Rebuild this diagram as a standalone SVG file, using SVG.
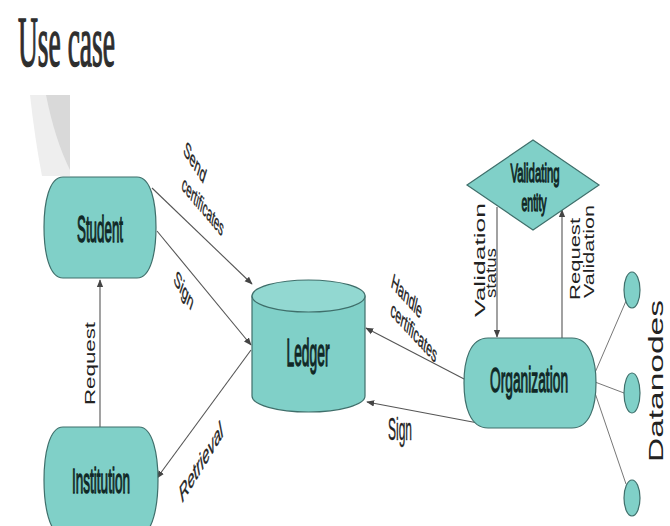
<svg xmlns="http://www.w3.org/2000/svg" width="670" height="526" viewBox="0 0 670 526">
<defs>
<style>
.node{fill:#80d0c8;stroke:#3f6f6b;stroke-width:1.2}
.nl{font-family:"Liberation Sans",Arial,sans-serif;fill:#102826;stroke:#102826;stroke-width:1;vector-effect:non-scaling-stroke;text-anchor:middle}
.lbl{font-family:"Liberation Sans",Arial,sans-serif;fill:#222}
.sl{font-family:"Liberation Sans",Arial,sans-serif;fill:#222;stroke:#222;stroke-width:0.4;text-anchor:middle}
.edge{stroke:#555;stroke-width:1.1;fill:none}
.arr{marker-end:url(#ah)}
.dn{stroke:#777;stroke-width:1;fill:none}
</style>
<marker id="ah" viewBox="0 0 10 10" refX="9" refY="5" markerWidth="8" markerHeight="8" orient="auto" markerUnits="userSpaceOnUse">
<path d="M0,1 L10,5 L0,9 Z" fill="#444"/>
</marker>
</defs>
<rect width="670" height="526" fill="#ffffff"/>
<g id="decor">
<path d="M30,95 H70 V176 H42 Q35,140 30,95 Z" fill="#eeeeee"/>
<path d="M46,95 H70 V170 Q55,140 46,95 Z" fill="#d9d9d9"/>
</g>
<text transform="translate(18,66) scale(0.382,1)" x="0" y="0" font-family="'Liberation Serif','Times New Roman',serif" font-size="72" fill="#2e2e2e" stroke="#2e2e2e" stroke-width="1.2" style="vector-effect:non-scaling-stroke">Use case</text>

<g id="connectors">
<line class="edge arr" x1="152" y1="188" x2="252" y2="284"/>
<line class="edge arr" x1="157" y1="231" x2="251" y2="345"/>
<line class="edge arr" x1="251" y1="350" x2="157" y2="478"/>
<line class="edge arr" x1="100" y1="427" x2="100" y2="280"/>
<line class="edge arr" x1="466" y1="380" x2="366" y2="328"/>
<line class="edge arr" x1="478" y1="423" x2="367" y2="402"/>
<line class="edge arr" x1="497" y1="207" x2="497" y2="337"/>
<line class="edge arr" x1="562" y1="338" x2="562" y2="210"/>
<line class="dn" x1="594" y1="375" x2="626" y2="301"/>
<line class="dn" x1="595" y1="382" x2="624" y2="393"/>
<line class="dn" x1="594" y1="390" x2="626" y2="484"/>
<g id="edge-labels">
<text class="sl" style="font-size:22px" transform="translate(195,162) scale(0.45,1) rotate(34.7)" dy="0.35em" textLength="56" lengthAdjust="spacingAndGlyphs">Send</text>
<text class="sl" style="font-size:22px" transform="translate(203,206) scale(0.45,1) rotate(27.8)" dy="0.35em" textLength="103" lengthAdjust="spacingAndGlyphs">certificates</text>
<text class="sl" style="font-size:22px" transform="translate(184,290) scale(0.45,1) rotate(36.8)" dy="0.35em" textLength="50" lengthAdjust="spacingAndGlyphs">Sign</text>
<text class="sl" style="font-size:22px" transform="translate(407,296) scale(0.45,1) rotate(26.5)" dy="0.35em" textLength="74" lengthAdjust="spacingAndGlyphs">Handle</text>
<text class="sl" style="font-size:22px" transform="translate(414,332) scale(0.45,1) rotate(25.8)" dy="0.35em" textLength="112" lengthAdjust="spacingAndGlyphs">certificates</text>
<text class="sl" style="font-size:24px;font-style:italic" transform="translate(201,462) scale(0.45,1) rotate(-36.5)" dy="0.35em" textLength="116" lengthAdjust="spacingAndGlyphs">Retrieval</text>
<text class="sl" style="font-size:32px" x="400" y="440" textLength="24" lengthAdjust="spacingAndGlyphs">Sign</text>
<text class="lbl" style="font-size:15px" transform="translate(95,405) rotate(-90)" textLength="83" lengthAdjust="spacingAndGlyphs">Request</text>
<text class="lbl" style="font-size:15px" transform="translate(485,317) rotate(-90)" textLength="114" lengthAdjust="spacingAndGlyphs">Validation</text>
<text class="lbl" style="font-size:14px" transform="translate(496,298) rotate(-90)" textLength="50" lengthAdjust="spacingAndGlyphs">status</text>
<text class="lbl" style="font-size:15px" transform="translate(580,300) rotate(-90)" textLength="82" lengthAdjust="spacingAndGlyphs">Request</text>
<text class="lbl" style="font-size:15px" transform="translate(594,298) rotate(-90)" textLength="93" lengthAdjust="spacingAndGlyphs">Validation</text>
</g>
</g>

<g id="student">
<path class="node" d="M63,177 H137 C151,177 156,203 156,227 C156,252 151,278 137,278 H63 C49,278 44,252 44,227 C44,203 49,177 63,177 Z"/>
<text class="nl" transform="translate(100,242) scale(0.371,1)" style="font-size:36px">Student</text>
</g>
<g id="institution">
<path class="node" d="M63,427 H139 C153,427 158,455 158,480 C158,505 153,535 139,535 H63 C49,535 44,505 44,480 C44,455 49,427 63,427 Z"/>
<text class="nl" transform="translate(101,493) scale(0.377,1)" style="font-size:36px">Institution</text>
</g>
<g id="ledger">
<path class="node" d="M252,296 V396 A56.5,16 0 0 0 365,396 V296 Z"/>
<ellipse class="node" cx="308.5" cy="296" rx="56.5" ry="16" style="fill:#92d8d1"/>
<text class="nl" transform="translate(308,366) scale(0.364,1)" style="font-size:38px">Ledger</text>
</g>
<g id="organization">
<path class="node" d="M488,338 H572 C590,338 596,360 596,383 C596,406 590,428 572,428 H488 C470,428 464,406 464,383 C464,360 470,338 488,338 Z"/>
<text class="nl" transform="translate(529,392) scale(0.394,1)" style="font-size:35px">Organization</text>
</g>
<g id="validating-entity">
<path class="node" d="M533,140 L599,185 L533,230 L467,185 Z"/>
<text class="nl" transform="translate(535,182) scale(0.438,1)" style="font-size:26px">Validating</text>
<text class="nl" transform="translate(534,211) scale(0.44,1)" style="font-size:24px">entity</text>
</g>
<g id="datanodes">
<ellipse class="node" cx="632" cy="290" rx="8" ry="18"/>
<ellipse class="node" cx="632" cy="393" rx="8" ry="20"/>
<ellipse class="node" cx="632" cy="498" rx="8" ry="18"/>
<text class="lbl" style="font-size:20px" transform="translate(663,462) rotate(-90)" textLength="162" lengthAdjust="spacingAndGlyphs">Datanodes</text>
</g>
</svg>
